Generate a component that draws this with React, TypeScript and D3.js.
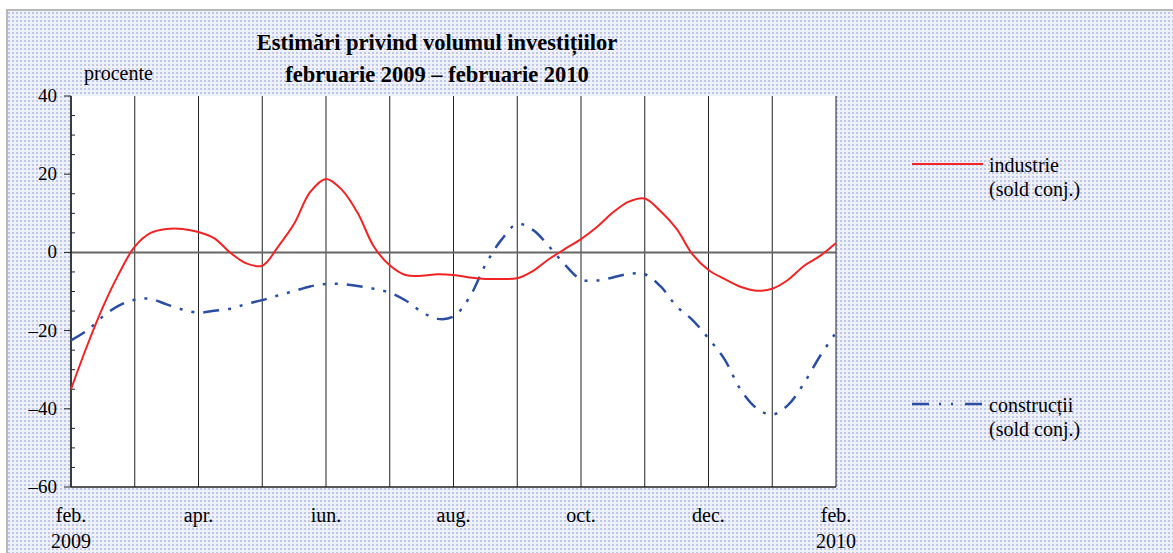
import React from 'react';
import * as d3 from 'd3';

// axis labels (every second month is labelled)
const monthTicks = [0, 2, 4, 6, 8, 10, 12];
const monthLabels = ['feb.', 'apr.', 'iun.', 'aug.', 'oct.', 'dec.', 'feb.'];
const yearLabels = ['2009', '', '', '', '', '', '2010'];
const yTicks = [40, 20, 0, -20, -40, -60];

// values read every quarter of a month, feb. 2009 -> feb. 2010
const industrie = [
  -35, -24, -14, -5.5, 1.5, 5, 6, 6, 5.2, 3.6, -0.1, -2.8, -3.4,
  1.5, 7.3, 15.4, 18.8, 16, 10, 1.5, -3.3, -5.8, -6, -5.6, -5.8,
  -6.4, -6.8, -6.8, -6.6, -4.7, -1.7, 0.9, 3.4, 6.5, 10.2, 13, 13.8,
  10.5, 6, -0.5, -4.5, -6.8, -8.8, -9.8, -9.3, -7, -3.4, -0.9, 2.4,
];
const constructii = [
  -22.5, -20, -16.4, -13.6, -12.1, -11.9, -13.3, -14.6, -15.4, -14.9, -14.4, -13.2, -12.2,
  -11, -9.9, -8.7, -8.1, -8.1, -8.6, -9.3, -10.3, -12.3, -15.2, -17, -16.4,
  -11.5, -3.2, 3.2, 7.3, 5.7, 1.5, -3.2, -6.9, -7.2, -6.4, -5.5, -5.6,
  -8.7, -13.8, -17.3, -22, -27.3, -35, -39.8, -41.5, -39, -33.4, -26.5, -20.5,
];

const W = 1173;
const H = 553;
const plot = { left: 71, right: 836, top: 96, bottom: 487 };
const serif = '"Liberation Serif", "DejaVu Serif", serif';

export default function App() {
  const x = d3.scaleLinear().domain([0, 12]).range([plot.left, plot.right]);
  const y = d3.scaleLinear().domain([-60, 40]).range([plot.bottom, plot.top]);

  const line = d3
    .line<number>()
    .x((_, i) => x(i / 4))
    .y((d) => y(d))
    .curve(d3.curveCatmullRom.alpha(0.5));

  const minorTicks = d3.range(-60, 41, 5).filter((v) => v % 20 !== 0);
  const months = d3.range(0, 13);

  return (
    <svg
      width={W}
      height={H}
      style={{ position: 'absolute', left: 0, top: 0, fontFamily: serif }}
    >
      <defs>
        <pattern id="dots" width={4} height={4} patternUnits="userSpaceOnUse">
          <rect width={4} height={4} fill="#eff1f9" />
          <rect width={2} height={2} fill="#bfc6e8" />
        </pattern>
      </defs>
      <rect width={W} height={H} fill="#fff" />
      <rect x={7} y={11} width={W} height={H} fill="url(#dots)" />
      <path d={`M7,${H} V10 H${W}`} fill="none" stroke="#b8b8b8" strokeWidth={2} />

      {/* plot area */}
      <rect
        x={plot.left}
        y={plot.top}
        width={plot.right - plot.left}
        height={plot.bottom - plot.top}
        fill="#fff"
      />
      {months.map((m) => (
        <line
          key={m}
          x1={x(m)}
          x2={x(m)}
          y1={plot.top}
          y2={plot.bottom}
          stroke="#222"
          strokeWidth={1}
        />
      ))}
      <line x1={plot.left} x2={plot.right} y1={y(0)} y2={y(0)} stroke="#666" strokeWidth={2} />
      <line x1={plot.left} x2={plot.right} y1={plot.bottom} y2={plot.bottom} stroke="#222" strokeWidth={1.5} />
      <line x1={plot.left} x2={plot.left} y1={plot.top} y2={plot.bottom} stroke="#222" strokeWidth={1.5} />

      {/* y axis */}
      {yTicks.map((v) => (
        <g key={v}>
          <line x1={plot.left - 7} x2={plot.left} y1={y(v)} y2={y(v)} stroke="#222" />
          <text x={57} y={y(v) + 6} textAnchor="end" fontSize={19}>
            {v < 0 ? `\u2013${-v}` : v}
          </text>
        </g>
      ))}
      {minorTicks.map((v) => (
        <line key={v} x1={plot.left} x2={plot.left + 4} y1={y(v)} y2={y(v)} stroke="#222" />
      ))}

      {/* x axis labels */}
      {monthTicks.map((m, i) => (
        <g key={m}>
          <text x={x(m)} y={522} textAnchor="middle" fontSize={20}>
            {monthLabels[i]}
          </text>
          {yearLabels[i] && (
            <text x={x(m)} y={548} textAnchor="middle" fontSize={20}>
              {yearLabels[i]}
            </text>
          )}
        </g>
      ))}

      {/* series */}
      <path d={line(constructii) ?? ''} fill="none" stroke="#2b4ea3" strokeWidth={2.5} strokeDasharray="16,9,3,9,3,9" />
      <path d={line(industrie) ?? ''} fill="none" stroke="#f02424" strokeWidth={2} />

      {/* titles */}
      <text x={437} y={50} textAnchor="middle" fontSize={22.5} fontWeight="bold">
        Estimări privind volumul investițiilor
      </text>
      <text x={437} y={82} textAnchor="middle" fontSize={22.5} fontWeight="bold">
        februarie 2009 – februarie 2010
      </text>
      <text x={84} y={80} fontSize={20}>
        procente
      </text>

      {/* legend */}
      <line x1={912} x2={983} y1={164} y2={164} stroke="#f02424" strokeWidth={2} />
      <text x={989} y={172} fontSize={20}>industrie</text>
      <text x={989} y={196} fontSize={20}>(sold conj.)</text>
      <line x1={912} x2={982} y1={404} y2={404} stroke="#2b4ea3" strokeWidth={2.5} strokeDasharray="17,10,2,10,2,12" />
      <text x={989} y={412} fontSize={20}>construcții</text>
      <text x={989} y={436} fontSize={20}>(sold conj.)</text>
    </svg>
  );
}
